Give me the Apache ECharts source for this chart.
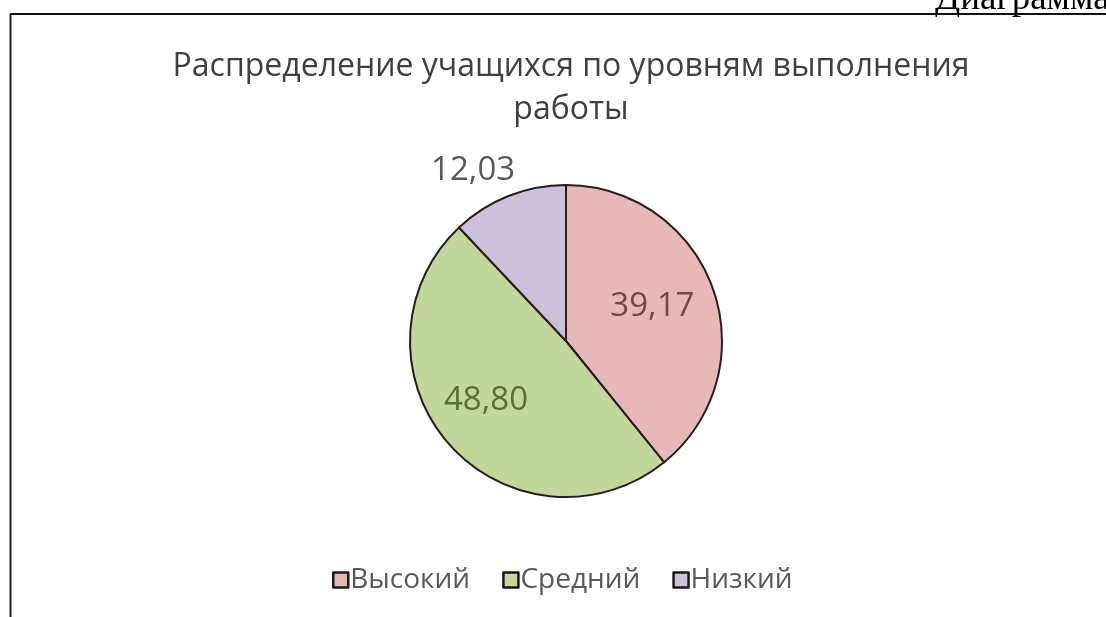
<!DOCTYPE html>
<html><head><meta charset="utf-8">
<script src="https://cdn.jsdelivr.net/npm/echarts@6/dist/echarts.min.js"></script>
<style>html,body{margin:0;padding:0;background:#fff}#c{width:1106px;height:617px}</style>
</head><body><div id="c"></div>
<script>
const categories = ['Высокий', 'Средний', 'Низкий'];
const values = [39.17, 48.80, 12.03];
const labelTexts = ['39,17', '48,80', '12,03'];
const colors = ['#e6b9b8', '#c3d69b', '#ccc1da'];
const labelColors = ['#6e4a4a', '#5a6b3c', '#595959'];
const labelShift = [[10, -7], [-19, 6], [-63, -95]];

const chart = echarts.init(document.getElementById('c'));
chart.setOption({
  animation: false,
  backgroundColor: '#fff',
  title: {
    text: 'Распределение учащихся по уровням выполнения\nработы',
    left: 566, top: 40, textAlign: 'center',
    textStyle: { fontFamily: 'Open Sans', fontSize: 32, fontWeight: 'normal', color: '#404040', lineHeight: 43 }
  },
  legend: {
    bottom: 18, left: 327,
    itemWidth: 15, itemHeight: 15, itemGap: 32,
    icon: 'rect',
    itemStyle: { borderColor: '#1a1a1a', borderWidth: 2.5 },
    textStyle: { fontFamily: 'Open Sans', fontSize: 28, color: '#595959', padding: [0, 0, 0, -3] },
    data: categories
  },
  graphic: [
    { type: 'line', shape: { x1: 10.5, y1: 14, x2: 10.5, y2: 617 }, style: { stroke: '#222', lineWidth: 2 } },
    { type: 'line', shape: { x1: 10, y1: 14, x2: 1106, y2: 14 }, style: { stroke: '#111', lineWidth: 2 } },
    { type: 'text', left: 935, top: -19, style: { text: 'Диаграмма', font: '37px "Liberation Serif"', fill: '#000' } }
  ],
  series: [{
    type: 'pie',
    center: [566, 341],
    radius: 156,
    startAngle: 90,
    clockwise: true,
    data: categories.map((c, i) => ({
      name: c, value: values[i],
      itemStyle: { color: colors[i] },
      label: { color: labelColors[i] }
    })),
    itemStyle: { borderColor: '#2a1c1c', borderWidth: 2 },
    label: {
      position: 'inside',
      fontFamily: 'Open Sans', fontSize: 33,
      formatter: p => labelTexts[p.dataIndex]
    },
    labelLine: { show: false },
    labelLayout: p => ({ dx: labelShift[p.dataIndex][0], dy: labelShift[p.dataIndex][1] }),
    emphasis: { disabled: true }
  }]
});
</script></body></html>
